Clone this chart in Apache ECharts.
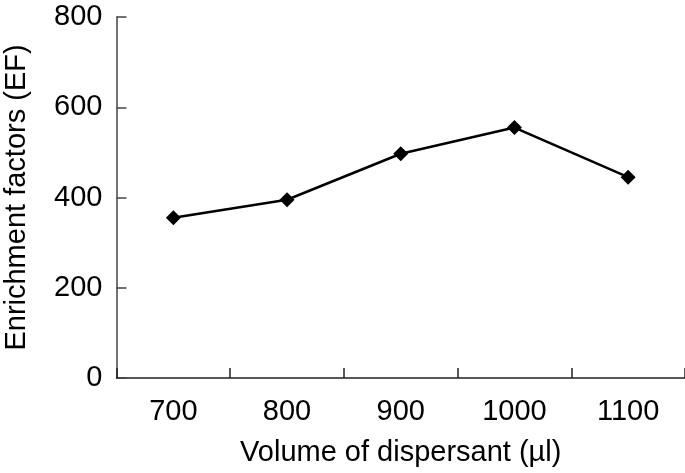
<!DOCTYPE html>
<html>
<head>
<meta charset="utf-8">
<script src="https://cdn.jsdelivr.net/npm/echarts@6/dist/echarts.min.js"></script>
<style>
  html, body { margin: 0; padding: 0; background: #fff; }
  #chart { width: 685px; height: 473px; }
</style>
</head>
<body>
<div id="chart"></div>
<script>
// volume of dispersant (µl)
const volumes = ["700", "800", "900", "1000", "1100"];
// enrichment factors
const efValues = [355, 395, 497, 555, 445];
const yTicks = { min: 0, max: 800, interval: 200 };

const myChart = echarts.init(document.getElementById("chart"));
const font = "Liberation Sans, Arial, sans-serif";

const option = {
  animation: false,
  grid: {
    left: 116.5,
    right: 0,
    top: 17,
    bottom: 95, // 473 - 378
    outerBoundsMode: "none",
    containLabel: false,
  },
  xAxis: {
    type: "category",
    data: volumes,
    boundaryGap: true,
    name: "Volume of dispersant (µl)",
    nameLocation: "middle",
    nameGap: 60,
    nameTextStyle: { fontFamily: font, fontSize: 29, color: "#000" },
    axisLine: { lineStyle: { color: "#222", width: 1.5 } },
    axisTick: { show: true, inside: true, length: 10, lineStyle: { color: "#222", width: 1.5 } },
    axisLabel: { fontFamily: font, fontSize: 29, color: "#000", margin: 19 },
  },
  yAxis: {
    type: "value",
    min: yTicks.min,
    max: yTicks.max,
    interval: yTicks.interval,
    name: "Enrichment factors (EF)",
    nameLocation: "middle",
    nameGap: 85,
    nameTextStyle: { fontFamily: font, fontSize: 29, color: "#000" },
    axisLine: { show: true, lineStyle: { color: "#444", width: 1.5 } },
    axisTick: { show: true, inside: true, length: 10, lineStyle: { color: "#444", width: 1.5 } },
    axisLabel: { fontFamily: font, fontSize: 29, color: "#000", margin: 14 },
    splitLine: { show: false },
  },
  series: [
    {
      type: "line",
      data: efValues,
      symbol: "diamond",
      symbolSize: 15,
      itemStyle: { color: "#000" },
      lineStyle: { color: "#000", width: 2.5 },
    },
  ],
};

myChart.setOption(option);
</script>
</body>
</html>
